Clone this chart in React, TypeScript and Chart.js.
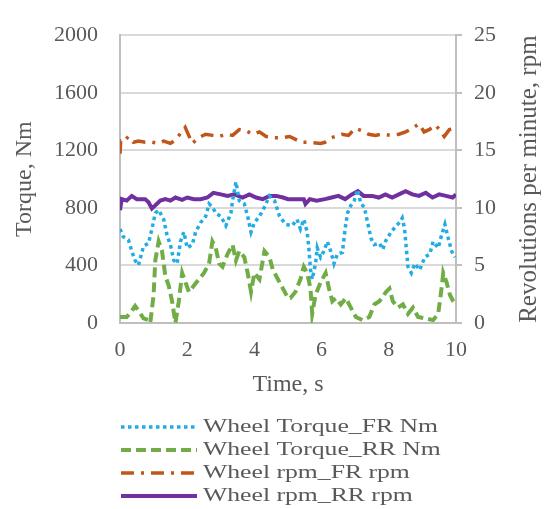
import React, { useEffect, useRef } from "react";
import { Chart, registerables } from "chart.js";

Chart.register(...registerables);

// ---- data ----
const TORQUE_FR_T = [0, 0.1, 0.25, 0.35, 0.45, 0.55, 0.7, 0.85, 0.95, 1.05, 1.15, 1.3, 1.4, 1.5, 1.6, 1.7, 1.8, 1.9, 2.0, 2.15, 2.25, 2.4, 2.55, 2.65, 2.75, 2.85, 3.0, 3.15, 3.3, 3.35, 3.45, 3.55, 3.7, 3.8, 3.9, 4.0, 4.15, 4.3, 4.45, 4.6, 4.75, 4.93, 5.12, 5.27, 5.37, 5.47, 5.57, 5.62, 5.67, 5.72, 5.82, 5.87, 5.97, 6.07, 6.17, 6.27, 6.37, 6.47, 6.62, 6.7, 6.77, 6.87, 6.97, 7.07, 7.17, 7.27, 7.37, 7.47, 7.57, 7.72, 7.82, 7.92, 8.07, 8.22, 8.32, 8.4, 8.47, 8.52, 8.57, 8.67, 8.77, 8.92, 9.07, 9.22, 9.32, 9.47, 9.57, 9.67, 9.77, 9.87, 9.97];
const TORQUE_FR = [654, 599, 577, 500, 435, 402, 533, 555, 654, 763, 785, 720, 610, 544, 435, 413, 566, 632, 522, 544, 632, 698, 741, 828, 806, 763, 741, 676, 763, 850, 981, 850, 828, 741, 632, 698, 741, 806, 883, 850, 741, 686, 676, 720, 654, 720, 632, 522, 369, 304, 413, 522, 457, 500, 566, 500, 413, 479, 490, 654, 763, 817, 850, 927, 828, 806, 698, 588, 544, 555, 511, 577, 632, 676, 698, 730, 654, 522, 391, 348, 413, 369, 457, 479, 566, 522, 610, 686, 588, 500, 457];

const TORQUE_RR_T = [0, 0.2, 0.35, 0.45, 0.55, 0.7, 0.85, 0.9, 1.0, 1.05, 1.15, 1.25, 1.35, 1.45, 1.55, 1.65, 1.75, 1.85, 1.95, 2.05, 2.2, 2.35, 2.5, 2.65, 2.75, 2.85, 2.95, 3.05, 3.2, 3.35, 3.45, 3.55, 3.7, 3.8, 3.9, 4.0, 4.15, 4.3, 4.45, 4.55, 4.7, 4.85, 5.0, 5.07, 5.22, 5.37, 5.47, 5.57, 5.67, 5.72, 5.82, 5.97, 6.12, 6.22, 6.32, 6.42, 6.57, 6.72, 6.87, 7.02, 7.22, 7.42, 7.57, 7.72, 7.92, 8.02, 8.12, 8.27, 8.42, 8.57, 8.72, 8.87, 9.07, 9.32, 9.47, 9.57, 9.62, 9.72, 9.82, 9.92, 10];
const TORQUE_RR = [42, 42, 85, 118, 85, 33, 20, 0, 195, 435, 566, 500, 326, 260, 151, 0, 151, 348, 282, 216, 260, 304, 348, 413, 566, 522, 413, 391, 479, 544, 435, 500, 457, 348, 216, 348, 304, 500, 457, 369, 304, 239, 173, 173, 216, 304, 391, 348, 239, 64, 195, 282, 348, 239, 151, 173, 129, 173, 107, 42, 20, 42, 129, 151, 216, 239, 151, 107, 129, 64, 107, 42, 33, 20, 64, 239, 348, 282, 195, 151, 129];

const RPM_FR_T = [0, 0.02, 0.1, 0.25, 0.4, 0.55, 0.75, 0.95, 1.15, 1.3, 1.5, 1.65, 1.94, 2.15, 2.35, 2.55, 2.75, 2.95, 3.15, 3.35, 3.55, 3.75, 3.95, 4.15, 4.35, 4.6, 4.85, 5.05, 5.4, 5.55, 5.97, 6.1, 6.3, 6.6, 6.8, 7.0, 7.2, 7.4, 7.6, 7.8, 8.05, 8.3, 8.5, 8.7, 8.9, 9.05, 9.2, 9.4, 9.65, 9.8, 10];
const RPM_FR = [14.7, 15.8, 15.7, 16.2, 15.7, 15.8, 15.7, 15.7, 15.6, 15.8, 15.6, 15.9, 17.0, 15.6, 16.1, 16.4, 16.3, 16.2, 16.4, 16.3, 16.8, 16.7, 16.4, 16.6, 16.2, 16.1, 16.1, 16.2, 15.7, 15.7, 15.6, 15.7, 16.1, 16.4, 16.3, 16.9, 16.7, 16.4, 16.3, 16.4, 16.3, 16.4, 16.6, 16.9, 17.3, 16.6, 16.8, 17.2, 16.2, 16.8, 16.9];

const RPM_RR_T = [0, 0.05, 0.2, 0.35, 0.5, 0.75, 0.85, 0.95, 1.05, 1.2, 1.35, 1.5, 1.65, 1.85, 2.0, 2.2, 2.4, 2.6, 2.78, 3.0, 3.2, 3.4, 3.65, 3.85, 4.05, 4.25, 4.45, 4.65, 4.85, 5.0, 5.2, 5.47, 5.52, 5.65, 5.85, 6.1, 6.3, 6.5, 6.7, 6.9, 7.08, 7.25, 7.5, 7.7, 7.9, 8.1, 8.3, 8.5, 8.7, 8.9, 9.1, 9.3, 9.5, 9.7, 9.9, 10];
const RPM_RR = [9.8, 10.76, 10.63, 11.04, 10.76, 10.76, 10.49, 9.94, 10.22, 10.63, 10.76, 10.63, 10.9, 10.7, 10.9, 10.76, 10.76, 10.9, 11.31, 11.17, 11.04, 11.17, 10.9, 11.17, 10.9, 10.76, 11.04, 11.04, 10.9, 10.76, 10.76, 10.76, 10.35, 10.76, 10.63, 10.76, 10.9, 11.04, 10.76, 11.17, 11.45, 11.04, 11.04, 10.9, 11.17, 10.9, 11.17, 11.45, 11.17, 11.04, 11.31, 10.9, 11.17, 11.04, 10.9, 11.17];

const X_TITLE = "Time, s";
const Y_TITLE = "Torque, Nm";
const Y1_TITLE = "Revolutions per minute, rpm";
const LABELS = ["Wheel Torque_FR Nm", "Wheel Torque_RR Nm", "Wheel rpm_FR rpm", "Wheel rpm_RR rpm"];
const COLORS = ["#22ACE4", "#70AD47", "#C0561A", "#7030A0"];
const DASHES = [[3.5, 3.5], [10, 5], [13, 7, 3, 7], []];
const WIDTHS = [3.5, 4, 3.5, 4];

const pts = (xs: number[], ys: number[]) => xs.map((x, i) => ({ x, y: ys[i] }));

const TEXT = "#595959";
const SERIF = "'Liberation Serif', 'Times New Roman', serif";

const extrasPlugin = {
  id: "extras",
  afterDraw(chart: any) {
    const ctx = chart.ctx;
    const area = chart.chartArea;
    // right axis title (reads bottom-to-top, like the left one)
    ctx.save();
    ctx.font = `25px ${SERIF}`;
    ctx.fillStyle = TEXT;
    ctx.textAlign = "center";
    ctx.textBaseline = "middle";
    ctx.translate(529, (area.top + area.bottom) / 2);
    ctx.rotate(-Math.PI / 2);
    ctx.fillText(Y1_TITLE, 0, 0);
    ctx.restore();

    // legend
    const rows = [427, 450, 473, 496];
    ctx.save();
    ctx.font = `19px ${SERIF}`;
    const natural = ctx.measureText(LABELS[0]).width;
    const sx = 235 / natural;
    LABELS.forEach((label, i) => {
      const y = rows[i];
      ctx.save();
      ctx.strokeStyle = COLORS[i];
      ctx.lineWidth = WIDTHS[i];
      ctx.setLineDash(DASHES[i]);
      ctx.beginPath();
      ctx.moveTo(121, y);
      ctx.lineTo(197, y);
      ctx.stroke();
      ctx.restore();
      ctx.save();
      ctx.fillStyle = TEXT;
      ctx.textBaseline = "middle";
      ctx.translate(203, y);
      ctx.scale(sx, 1);
      ctx.fillText(label, 0, 0);
      ctx.restore();
    });
    ctx.restore();
  },
};

export default function App() {
  const ref = useRef<HTMLCanvasElement | null>(null);
  useEffect(() => {
    if (!ref.current) return;
    const series = [
      pts(TORQUE_FR_T, TORQUE_FR),
      pts(TORQUE_RR_T, TORQUE_RR),
      pts(RPM_FR_T, RPM_FR),
      pts(RPM_RR_T, RPM_RR),
    ];
    const tickFont = { family: SERIF, size: 22 };
    const chart = new Chart(ref.current, {
      type: "line",
      data: {
        datasets: series.map((d, i) => ({
          label: LABELS[i],
          data: d,
          borderColor: COLORS[i],
          backgroundColor: COLORS[i],
          borderWidth: WIDTHS[i],
          borderDash: DASHES[i],
          pointRadius: 0,
          tension: 0,
          fill: false,
          yAxisID: i < 2 ? "y" : "y1",
        })),
      },
      options: {
        animation: false,
        responsive: false,
        maintainAspectRatio: false,
        layout: { padding: { left: 0, right: 0, top: 18, bottom: 110 } },
        plugins: { legend: { display: false }, tooltip: { enabled: false } },
        scales: {
          x: {
            type: "linear",
            min: 0,
            max: 10,
            ticks: { stepSize: 2, color: TEXT, font: tickFont, padding: 14, callback: (v: any) => String(v) },
            grid: { display: false, drawTicks: false },
            border: { display: true, color: "#BFBFBF", width: 2 },
            title: { display: true, text: X_TITLE, color: TEXT, font: { family: SERIF, size: 24 }, padding: { top: 2, bottom: 0 } },
            afterFit: (s: any) => { s.height = 509 - 110 - 323; },
          },
          y: {
            position: "left",
            min: 0,
            max: 2000,
            ticks: { stepSize: 400, color: TEXT, font: tickFont, padding: 22, callback: (v: any) => String(v) },
            grid: { color: "#D9D9D9", lineWidth: 2, drawTicks: false },
            border: { display: true, color: "#BFBFBF", width: 2 },
            title: { display: true, text: Y_TITLE, color: TEXT, font: { family: SERIF, size: 24 }, padding: { top: 10, bottom: 0 } },
            afterFit: (s: any) => { s.width = 120; },
          },
          y1: {
            position: "right",
            min: 0,
            max: 25,
            ticks: { stepSize: 5, color: TEXT, font: tickFont, padding: 12, callback: (v: any) => String(v) },
            grid: { drawOnChartArea: false, drawTicks: true, tickLength: 6, color: "#BFBFBF", lineWidth: 2 },
            border: { display: true, color: "#BFBFBF", width: 2 },
            title: { display: false },
            afterFit: (s: any) => { s.width = 553 - 456; },
          },
        },
      },
      plugins: [extrasPlugin],
    });
    return () => chart.destroy();
  }, []);
  return (
    <div style={{ position: "fixed", left: 0, top: 0, width: 553, height: 509, background: "#fff" }}>
      <canvas ref={ref} width={553} height={509} style={{ display: "block", width: 553, height: 509 }} />
    </div>
  );
}
